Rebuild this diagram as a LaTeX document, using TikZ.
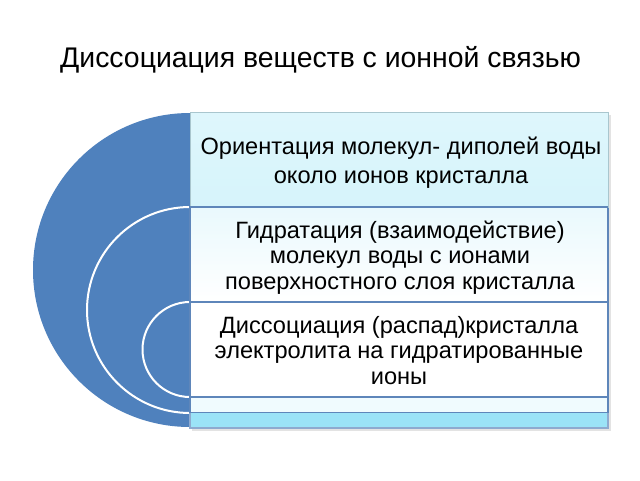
\documentclass[tikz,border=0pt]{standalone}
\usepackage{fontspec}
\setmainfont{Liberation Sans}
\definecolor{discblue}{HTML}{4F81BD}
\definecolor{boxline}{HTML}{5E86BA}
\definecolor{topfill}{HTML}{D6F4FB}
\definecolor{topline}{HTML}{A9C6CE}
\definecolor{midfill}{HTML}{F6FCFE}
\definecolor{bandfill}{HTML}{F0FBFE}
\definecolor{cyanband}{HTML}{9BE3F7}
\tikzset{
  boxtext/.style={align=center, font=\fontsize{23.6}{25.8}\selectfont, text=black, inner sep=0pt},
  layer/.style={draw=boxline, line width=1.2pt},
  whitearc/.style={draw=white, line width=2pt}
}
\begin{document}
\begin{tikzpicture}[x=1pt,y=-1pt]
\useasboundingbox[fill=white] (0,0) rectangle (640,480);
% title
\node[font=\fontsize{28.4}{32}\selectfont, inner sep=0pt] (title) at (320.5,60) {Диссоциация веществ с ионной связью};
% half disc
\fill[discblue] (190,113) arc[start angle=270, end angle=90, radius=157] -- cycle;
\draw[whitearc] (190,207) arc[start angle=270, end angle=90, radius=103];
\draw[whitearc] (190,302) arc[start angle=270, end angle=90, radius=47.5];
% shadow
\fill[black!18, opacity=0.6] (192,115) rectangle (611,431);
% layers
\fill[cyanband] (190,412.5) rectangle (608,428);
\draw[layer, draw=boxline!70] (190,412.5) rectangle (608,428);
\fill[bandfill] (190,397) rectangle (608,412.5);
\draw[layer] (190,397) rectangle (608,412.5);
\fill[white] (190,302) rectangle (608,397);
\draw[layer] (190,302) rectangle (608,397);
\shade[top color=midfill!60!topfill, bottom color=white] (190,207) rectangle (608,302);
\draw[layer] (190,207) rectangle (608,302);
\shade[top color=topfill!80!white, bottom color=topfill] (190,112) rectangle (608,207);
\draw[line width=1pt, draw=topline] (190,112) rectangle (608,207);
\draw[layer] (190,207) -- (608,207);
% texts
\node[boxtext, font=\fontsize{23.6}{29}\selectfont] (t1) at (401,162.5) {Ориентация молекул- диполей воды\\около ионов кристалла};
\node[boxtext] (t2) at (400,257.5) {Гидратация (взаимодействие)\\молекул воды с ионами\\поверхностного слоя кристалла};
\node[boxtext] (t3) at (399,350.5) {Диссоциация (распад)кристалла\\электролита на гидратированные\\ионы};
\end{tikzpicture}
\end{document}
